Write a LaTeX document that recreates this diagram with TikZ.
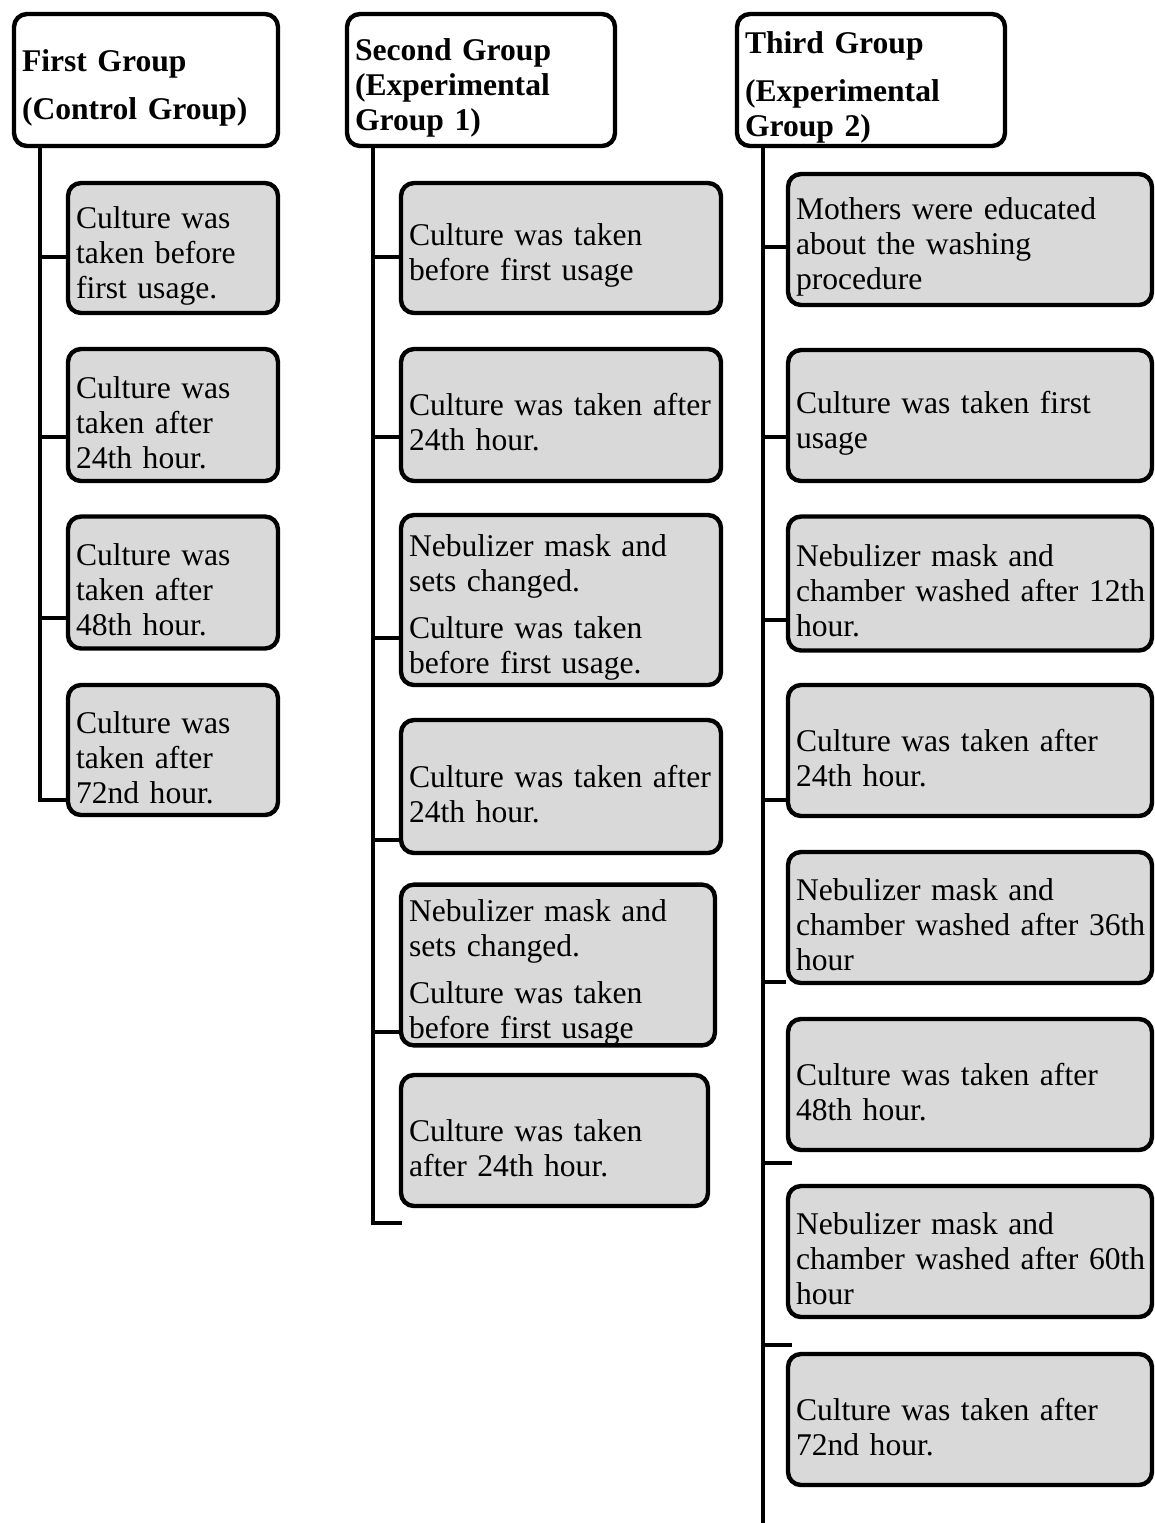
\documentclass[tikz,border=0pt]{standalone}
\usepackage{fontspec}
\setmainfont{Liberation Serif}
\usetikzlibrary{calc}
\definecolor{boxgray}{HTML}{D9D9D9}

\begin{document}
\begin{tikzpicture}[x=0.5pt, y=-0.5pt]
	\tikzstyle{head}=[draw=black,line width=2.2pt,rounded corners=6.5pt,fill=white,align=left,inner xsep=4pt,inner ysep=0pt,minimum height=66pt,text width=126pt,font=\fontsize{15.8}{17.5}\selectfont\bfseries,execute at begin node={\rule{0pt}{18.5pt}}]
	\tikzstyle{leaf}=[draw=black,line width=2.2pt,rounded corners=6.5pt,fill=boxgray,align=left,inner xsep=4pt,inner ysep=0pt,minimum height=65.5pt,font=\fontsize{15.8}{17.5}\selectfont,execute at begin node={\rule{0pt}{18.5pt}}]
	\tikzstyle{wire}=[line width=2.4pt]
	\useasboundingbox (0,0) rectangle (1155,1523);

	% group headers
	\node[head,text width=124pt] (h1) at (146,80) {First Group\\[6.5pt](Control Group)};
	\node[head] (h2) at (481,80) {Second Group\\(Experimental\\Group 1)};
	\node[head] (h3) at (871,80) {Third Group\\[6.5pt](Experimental\\Group 2)};

	% first group
	\node[leaf,text width=97pt,minimum height=65pt] (c11) at (173,248) {Culture was\\taken before\\first usage.};
	\node[leaf,text width=97pt,minimum height=66pt] (c12) at (173,415) {Culture was\\taken after\\24th hour.};
	\node[leaf,text width=97pt,minimum height=66pt] (c13) at (173,582.5) {Culture was\\taken after\\48th hour.};
	\node[leaf,text width=97pt,minimum height=65pt] (c14) at (173,750) {Culture was\\taken after\\72nd hour.};

	% second group
	\node[leaf,text width=152pt,minimum height=65pt] (c21) at (561,248) {Culture was taken\\before first usage};
	\node[leaf,text width=152pt,minimum height=66pt] (c22) at (561,415) {Culture was taken after\\24th hour.};
	\node[leaf,text width=152pt,minimum height=85pt] (c23) at (561,600) {Nebulizer mask and\\sets changed.\\[6pt]Culture was taken\\before first usage.};
	\node[leaf,text width=152pt,minimum height=66.5pt] (c24) at (561,786.5) {Culture was taken after\\24th hour.};
	\node[leaf,text width=149pt,minimum height=74.5pt,execute at begin node={}] (c25) at (558,965) {Nebulizer mask and\\sets changed.\\[6pt]Culture was taken\\before first usage};
	\node[leaf,text width=145.5pt] (c26) at (554.5,1140.5) {Culture was taken\\after 24th hour.};

	% third group
	\node[leaf,text width=174pt] (c31) at (970,239.5) {Mothers were educated\\about the washing\\procedure};
	\node[leaf,text width=174pt] (c32) at (970,415.5) {Culture was taken first\\usage};
	\node[leaf,text width=174pt,minimum height=67pt] (c33) at (970,583.5) {Nebulizer mask and\\\mbox{chamber washed after 12th}\\hour.};
	\node[leaf,text width=174pt] (c34) at (970,750.5) {Culture was taken after\\24th hour.};
	\node[leaf,text width=174pt] (c35) at (970,917.5) {Nebulizer mask and\\\mbox{chamber washed after 36th}\\hour};
	\node[leaf,text width=174pt] (c36) at (970,1084.5) {Culture was taken after\\48th hour.};
	\node[leaf,text width=174pt] (c37) at (970,1251.5) {Nebulizer mask and\\\mbox{chamber washed after 60th}\\hour};
	\node[leaf,text width=174pt] (c38) at (970,1419.5) {Culture was taken after\\72nd hour.};

	% trunks
	\coordinate (r1) at (h1.south -| 40,0);
	\coordinate (r2) at (h2.south -| 373,0);
	\coordinate (r3) at (h3.south -| 763,0);
	\coordinate (e2) at (402,1223);
	\coordinate (e3) at (763,1530);
	\coordinate (e4) at (792,1163);
	\coordinate (e5) at (792,1345);

	\draw[wire] (r1) |- ($(c14.west)+(0,50)$);
	\draw[wire] ($(r1|-c11.west)+(0,9)$) -- ($(c11.west)+(0,9)$);
	\draw[wire] ($(r1|-c12.west)+(0,22)$) -- ($(c12.west)+(0,22)$);
	\draw[wire] ($(r1|-c13.west)+(0,35.5)$) -- ($(c13.west)+(0,35.5)$);

	\draw[wire] (r2) |- (e2);
	\draw[wire] ($(r2|-c21.west)+(0,9)$) -- ($(c21.west)+(0,9)$);
	\draw[wire] ($(r2|-c22.west)+(0,22)$) -- ($(c22.west)+(0,22)$);
	\draw[wire] ($(r2|-c23.west)+(0,38)$) -- ($(c23.west)+(0,38)$);
	\draw[wire] ($(r2|-c24.west)+(0,53.5)$) -- ($(c24.west)+(0,53.5)$);
	\draw[wire] ($(r2|-c25.west)+(0,67)$) -- ($(c25.west)+(0,67)$);

	\draw[wire] (r3) -- (e3);
	\draw[wire] ($(r3|-c31.west)+(0,7.5)$) -- ($(c31.west)+(0,7.5)$);
	\draw[wire] ($(r3|-c32.west)+(0,21.5)$) -- ($(c32.west)+(0,21.5)$);
	\draw[wire] ($(r3|-c33.west)+(0,36.5)$) -- ($(c33.west)+(0,36.5)$);
	\draw[wire] ($(r3|-c34.west)+(0,49.5)$) -- ($(c34.west)+(0,49.5)$);
	\draw[wire] ($(r3|-c35.west)+(0,64.5)$) -- ($(c35.west)+(0,64.5)$);
	\draw[wire] (r3|-e4) -- (e4);
	\draw[wire] (r3|-e5) -- (e5);
\end{tikzpicture}
\end{document}
